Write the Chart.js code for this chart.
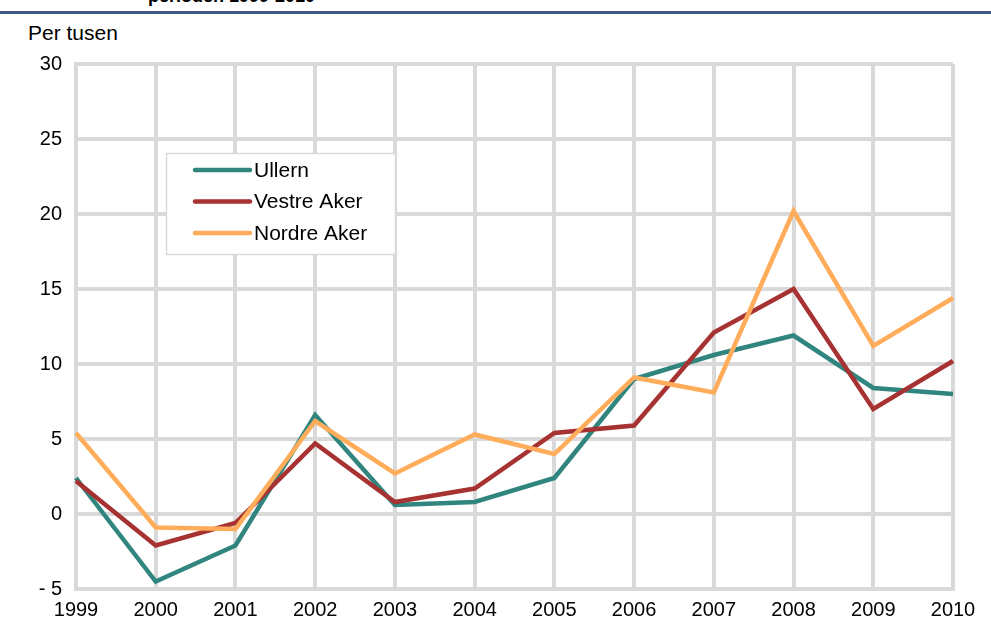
<!DOCTYPE html>
<html lang="no">
<head>
    <meta charset="UTF-8">
    <title>Per tusen</title>
    <script src="https://cdn.jsdelivr.net/npm/chart.js"></script>
    <style>
        body {
            margin: 0;
            width: 991px;
            height: 628px;
            overflow: hidden;
            background: #ffffff;
            font-family: 'Liberation Sans', Arial, sans-serif;
            position: relative;
        }
        .title {
            position: absolute;
            left: 148px;
            top: -14px;
            font-size: 18px;
            font-weight: bold;
            color: #000;
        }
        .rule {
            position: absolute;
            left: 0;
            top: 11px;
            width: 991px;
            height: 3px;
            background: #3f5a8a;
        }
        .unit {
            position: absolute;
            left: 28px;
            top: 21px;
            font-size: 21px;
            color: #000;
        }
        #wrap {
            position: absolute;
            left: 0;
            top: 0;
            width: 991px;
            height: 628px;
        }
    </style>
</head>
<body>
    <div class="title">perioden 1999-2010</div>
    <div class="rule"></div>
    <div class="unit">Per tusen</div>
    <div id="wrap"><canvas id="chart"></canvas></div>

    <script>
        // år og verdier (per tusen)
        const years = ['1999', '2000', '2001', '2002', '2003', '2004', '2005', '2006', '2007', '2008', '2009', '2010'];
        const ullern = [2.4, -4.5, -2.1, 6.6, 0.6, 0.8, 2.4, 9.0, 10.6, 11.9, 8.4, 8.0];
        const vestreAker = [2.2, -2.1, -0.6, 4.7, 0.8, 1.7, 5.4, 5.9, 12.1, 15.0, 7.0, 10.2];
        const nordreAker = [5.4, -0.9, -1.0, 6.2, 2.7, 5.3, 4.0, 9.1, 8.1, 20.2, 11.2, 14.4];

        const gridColor = '#d9d9d9';
        const fontFam = '"Liberation Sans", Arial, sans-serif';

        // legende inne i plottet
        const boxLegend = {
            id: 'boxLegend',
            afterDraw(chart) {
                const c = chart.ctx;
                const x = 166, y = 153, w = 229, h = 101;
                c.save();
                c.fillStyle = '#ffffff';
                c.fillRect(x, y, w, h);
                c.strokeStyle = gridColor;
                c.lineWidth = 1.5;
                c.strokeRect(x + 0.5, y + 0.5, w, h);
                c.font = '21px ' + fontFam;
                c.textBaseline = 'middle';
                const sets = chart.data.datasets;
                sets.forEach((ds, i) => {
                    const ry = y + 17 + i * 31.5;
                    c.strokeStyle = ds.borderColor;
                    c.lineWidth = 4.5;
                    c.lineCap = 'round';
                    c.beginPath();
                    c.moveTo(x + 29, ry);
                    c.lineTo(x + 84, ry);
                    c.stroke();
                    c.fillStyle = '#000';
                    c.fillText(ds.label, x + 88, ry + 1);
                });
                c.restore();
            }
        };

        const ctx = document.getElementById('chart').getContext('2d');
        new Chart(ctx, {
            type: 'line',
            data: {
                labels: years,
                datasets: [
                    { label: 'Ullern', data: ullern, borderColor: '#31857f', order: 3 },
                    { label: 'Vestre Aker', data: vestreAker, borderColor: '#a63232', order: 2 },
                    { label: 'Nordre Aker', data: nordreAker, borderColor: '#ffad5b', order: 1 }
                ]
            },
            options: {
                responsive: true,
                maintainAspectRatio: false,
                animation: false,
                elements: {
                    line: { borderWidth: 4.5, tension: 0, borderJoinStyle: 'miter' },
                    point: { radius: 0 }
                },
                layout: { padding: { left: 0, right: 38, top: 64, bottom: 0 } },
                plugins: {
                    legend: { display: false },
                    tooltip: { enabled: false }
                },
                scales: {
                    x: {
                        offset: false,
                        grid: { color: gridColor, lineWidth: 4, drawTicks: false },
                        border: { color: gridColor, width: 4 },
                        ticks: {
                            color: '#000',
                            padding: 9,
                            maxRotation: 0,
                            autoSkip: false,
                            font: { family: fontFam, size: 20 }
                        },
                        afterFit(scale) { scale.height = 39; }
                    },
                    y: {
                        min: -5,
                        max: 30,
                        grid: { color: gridColor, lineWidth: 4, drawTicks: false },
                        border: { color: gridColor, width: 4 },
                        ticks: {
                            stepSize: 5,
                            color: '#000',
                            padding: 14,
                            font: { family: fontFam, size: 20 },
                            callback: v => v < 0 ? '- ' + Math.abs(v) : String(v)
                        },
                        afterFit(scale) { scale.width = 76; }
                    }
                }
            },
            plugins: [boxLegend]
        });
    </script>
</body>
</html>
